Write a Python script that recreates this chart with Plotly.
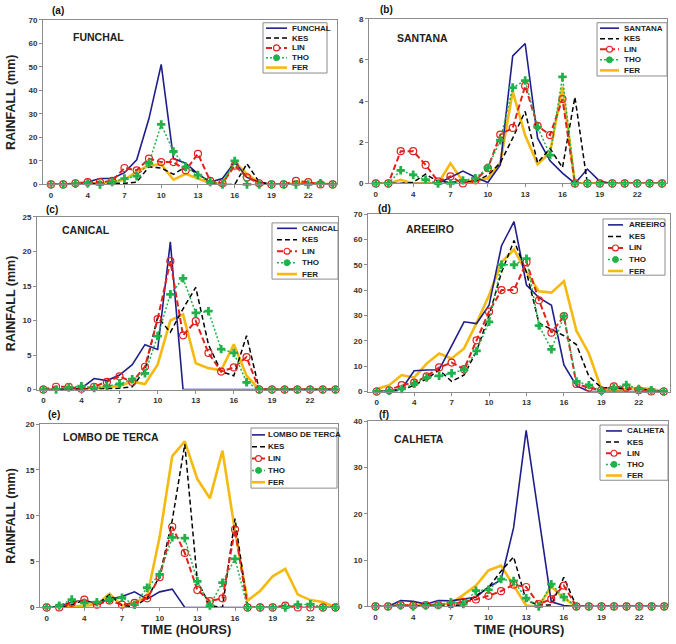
import plotly.graph_objects as go

# ---------------- data ----------------
hours = list(range(1, 25))
tick_vals = [1, 4, 7, 10, 13, 16, 19, 22]
tick_text = ["0", "4", "7", "10", "13", "16", "19", "22"]
model_names = ["KES", "LIN", "THO", "FER"]

funchal_obs = [0, 0, 0.3, 1, 2.5, 2.5, 5, 10.5, 28, 51, 11, 9, 4.5, 1, 2.5, 9.5, 3, 1, 0, 0, 0, 0, 0, 0]
funchal_kes = [0, 0, 0, 0.3, 0.5, 0.5, 0.5, 1, 7.5, 7, 4.3, 7.5, 4.5, 1, 0, 0, 8.8, 1, 0, 0, 0, 0, 0, 0]
funchal_lin = [0, 0, 0.5, 1, 1, 1.5, 7, 6, 11, 9.5, 9.5, 6, 13, 1.5, 0.5, 8, 3, 0.5, 0, 0, 1.5, 1, 0, 0]
funchal_tho = [0, 0, 0.3, 0.5, 0, 1, 2.5, 3.5, 9, 25.5, 14, 7.5, 4, 1, 0, 10, 0, 0, 0, 0, 0, 0, 0.5, 0]
funchal_fer = [0, 0, 0, 0.5, 0.5, 1, 2, 5.5, 8, 8.5, 2, 4.5, 2.5, 0.5, 0.3, 9.5, 4.5, 0.5, 0, 0, 0.5, 0.5, 0.5, 0]

santana_obs = [0, 0, 0, 0, 0, 0, 0.3, 0.6, 0.3, 0.05, 0.9, 6.2, 6.8, 2.2, 1.1, 0.5, 0, 0.7, 0.1, 0, 0, 0, 0, 0]
santana_kes = [0, 0, 0, 0.05, 0.45, 0.1, 0.05, 0.1, 0.1, 0.4, 1.0, 2.2, 3.5, 1.0, 1.7, 0.77, 4.2, 0, 0, 0, 0, 0, 0, 0]
santana_lin = [0, 0, 1.57, 1.57, 0.9, 0.1, 0.34, 0, 0.15, 0.74, 2.37, 2.7, 4.74, 2.8, 2.35, 4.1, 0, 0, 0, 0, 0, 0, 0, 0]
santana_tho = [0, 0, 0.64, 0.42, 0.18, 0, 0, 0.15, 0.25, 0.77, 2.1, 4.66, 5.0, 2.74, 1.38, 5.18, 0, 0, 0, 0, 0, 0, 0, 0]
santana_fer = [0, 0, 0.18, 0, 0, 0, 0.98, 0.1, 0.1, 0.25, 1.0, 4.47, 2.34, 0.93, 1.5, 4.7, 0, 0, 0, 0, 0, 0, 0, 0]

canical_obs = [0, 0, 0, 0.2, 1.6, 1.3, 2.1, 3.6, 6.5, 5.8, 21.4, 0, 0, 0, 0, 0, 0, 0, 0, 0, 0, 0, 0, 0]
canical_kes = [0, 0, 0, 0.1, 0.1, 0.1, 0.2, 0.4, 2.8, 10.5, 8.3, 11.7, 14.8, 6.5, 2.6, 2.0, 7.8, 0, 0, 0, 0, 0, 0, 0]
canical_lin = [0, 0.4, 0.4, 0.1, 0.4, 1.1, 1.9, 1.1, 3.3, 10.2, 18.6, 7.85, 9.9, 5.3, 2.6, 3.2, 4.7, 0, 0, 0, 0, 0, 0, 0]
canical_tho = [0, 0, 0.3, 0.5, 0.2, 0.5, 0.8, 1.5, 2.35, 7.75, 13.8, 16.1, 11.1, 11.35, 5.85, 5.3, 1.05, 0, 0, 0, 0, 0, 0, 0]
canical_fer = [0, 0, 0, 0, 0.2, 0.3, 0.5, 1.15, 0.8, 3.6, 10.0, 10.9, 3.8, 3.1, 2.8, 6.55, 2.0, 0, 0, 0, 0, 0, 0, 0]

areeiro_obs = [0, 0.3, 1, 8.2, 8.5, 8.6, 18, 27.5, 26.8, 34, 57.5, 67, 42, 37, 34, 10.5, 2.3, 0, 0, 0, 0, 0, 0, 0]
areeiro_kes = [0, 0, 0.5, 2.5, 5, 8.5, 4, 6.5, 16, 30, 47, 59.5, 47, 27, 24.5, 22, 18.5, 6, 1.5, 1.5, 1, 1, 0.5, 0]
areeiro_lin = [0, 0.5, 2.5, 3.5, 6, 9.5, 11.4, 8.8, 20.2, 31.5, 40, 40, 51, 36, 23.2, 29.7, 3, 1.5, 0.5, 2, 1.5, 0.5, 0, 0]
areeiro_tho = [0, 0.3, 1, 3, 5.5, 6.2, 7.2, 8.6, 16, 27.5, 50, 50, 52.4, 26, 16.6, 29.7, 4, 2.5, 0.3, 1.5, 2.6, 1, 0.5, 0]
areeiro_fer = [1, 2.5, 6.5, 5.5, 11, 15, 13, 17, 27, 38, 51, 56, 47, 39.5, 39, 43.5, 24, 15, 1, 0.5, 1, 1.5, 1, 0]

lombo_obs = [0, 0.1, 0.6, 0.75, 0.45, 0.9, 1.2, 1.7, 0.9, 1.7, 2.0, 0, 0, 0, 0, 0, 0, 0, 0, 0, 0, 0, 0, 0]
lombo_kes = [0, 0, 0.3, 0.8, 0.3, 1.4, 0.2, 0.1, 1.0, 3.4, 9.5, 17.8, 2.9, 0.2, 0, 9.7, 0, 0, 0, 0, 0, 0, 0, 0]
lombo_lin = [0, 0, 0.5, 0.85, 0.3, 0.75, 0.3, 0.5, 1.0, 3.3, 8.8, 5.95, 1.9, 0.7, 1.0, 8.5, 0, 0, 0, 0.2, 0, 0, 0, 0]
lombo_tho = [0, 0.2, 0.86, 0.5, 0.57, 0.86, 1.07, 0.3, 2.15, 3.6, 7.65, 7.55, 2.85, 0.2, 2.7, 5.3, 0, 0, 0, 0, 0.3, 0.35, 0, 0]
lombo_fer = [0, 0, 0.1, 0.2, 0.3, 1.5, 0.2, 0.5, 1.2, 7.7, 16.5, 18.1, 14, 11.9, 17.1, 8.3, 0.75, 1.8, 3.4, 4.2, 1.4, 0.8, 0.6, 0]

calheta_obs = [0, 0, 1.3, 1.1, 0.5, 1.3, 1.2, 1.6, 2.0, 4.2, 5.7, 17, 38, 19.5, 1, 0.2, 0, 0, 0, 0, 0, 0, 0, 0]
calheta_kes = [0, 0, 0.1, 0.1, 0.1, 0.2, 0.2, 0.3, 2.3, 4.1, 7.6, 10.7, 1.3, 0.3, 0.3, 6.3, 0, 0, 0, 0, 0, 0, 0, 0]
calheta_lin = [0, 0, 0.3, 0.2, 0.3, 0.3, 0.5, 1.0, 1.5, 2.3, 3.3, 4.7, 4.2, 0.5, 1.6, 4.5, 0, 0, 0, 0, 0, 0, 0, 0]
calheta_tho = [0, 0, 0.2, 0, 0.2, 0.3, 0.9, 0.5, 3.4, 3.6, 5.9, 5.5, 1.8, 0, 4.8, 2.0, 0, 0, 0, 0, 0, 0, 0, 0]
calheta_fer = [0, 0, 0.3, 0.2, 0.3, 0.5, 0.6, 2.5, 4.5, 7.8, 8.8, 4.5, 0.2, 0, 4.3, 1.8, 0, 0, 0, 0, 0, 0, 0, 0]

# ---------------- layout (pixels) ----------------
W, H = 676, 644
def fx(p):
    return p / W
def fy(p):
    return 1 - p / H

panels = [
    dict(tag="(a)", name="FUNCHAL", series=[funchal_obs, funchal_kes, funchal_lin, funchal_tho, funchal_fer],
         ymax=70, dtick=10, box=(43, 337, 16, 183), xr=(0.35, 24.35), tagxy=(50, 7), namexy=(71, 33),
         leg=dict(box=(263, 327, 19, 70), y0=24.5, dy=10, lx=(266, 287), tx=290)),
    dict(tag="(b)", name="SANTANA", series=[santana_obs, santana_kes, santana_lin, santana_tho, santana_fer],
         ymax=8, dtick=2, box=(369, 667, 15, 182), xr=(0.45, 24.4), tagxy=(378, 6), namexy=(395, 34),
         leg=dict(box=(597, 667, 19, 73), y0=24.5, dy=10.7, lx=(600, 619), tx=622)),
    dict(tag="(c)", name="CANICAL", series=[canical_obs, canical_kes, canical_lin, canical_tho, canical_fer],
         ymax=25, dtick=5, box=(37, 338, 216, 391), xr=(0.5, 24.2), tagxy=(44, 208), namexy=(60, 229),
         leg=dict(box=(272, 338, 222, 279), y0=227.5, dy=11.6, lx=(277, 297), tx=300)),
    dict(tag="(d)", name="AREEIRO", series=[areeiro_obs, areeiro_kes, areeiro_lin, areeiro_tho, areeiro_fer],
         ymax=70, dtick=10, box=(368, 670, 213, 393), xr=(0.3, 24.5), tagxy=(376, 207), namexy=(404, 228),
         leg=dict(box=(603, 665, 218, 275), y0=224, dy=11.7, lx=(608, 623), tx=627)),
    dict(tag="(e)", name="LOMBO DE TERCA", series=[lombo_obs, lombo_kes, lombo_lin, lombo_tho, lombo_fer],
         ymax=20, dtick=5, box=(40, 338, 426, 612), xr=(0.47, 24.2), tagxy=(46, 416), namexy=(61, 439),
         leg=dict(box=(251, 337, 430, 491), y0=437, dy=12, lx=(252, 265), tx=266)),
    dict(tag="(f)", name="CALHETA", series=[calheta_obs, calheta_kes, calheta_lin, calheta_tho, calheta_fer],
         ymax=40, dtick=10, box=(368, 668, 423, 611), xr=(0.4, 24.3), tagxy=(377, 416), namexy=(392, 441),
         leg=dict(box=(600, 668, 427, 483), y0=433, dy=11.3, lx=(606, 622), tx=625)),
]

NAVY = "#1f1f8c"
RED = "#e3211c"
GREEN = "#1fb24a"
GOLD = "#f6b90f"
styles = [
    dict(line=dict(color=NAVY, width=1.6), mode="lines"),
    dict(line=dict(color="#000000", width=1.5, dash="5px,3px"), mode="lines"),
    dict(line=dict(color=RED, width=2, dash="6px,3px"), mode="lines+markers",
         marker=dict(symbol="circle-open", size=7, color=RED, line=dict(width=1.2, color=RED))),
    dict(line=dict(color=GREEN, width=1.5, dash="2px,2px"), mode="lines+markers",
         marker=dict(symbol="cross", size=7, color=GREEN)),
    dict(line=dict(color=GOLD, width=2.6), mode="lines"),
]
draw_order = [4, 0, 1, 2, 3]

FONT = "Liberation Sans, Arial, sans-serif"
fig = go.Figure()
annotations = []
shapes = []

for k, p in enumerate(panels, start=1):
    xa = "x" if k == 1 else f"x{k}"
    ya = "y" if k == 1 else f"y{k}"
    labels = [p["name"]] + model_names
    for si in draw_order:
        st = styles[si]
        fig.add_trace(go.Scatter(
            x=hours, y=p["series"][si], name=labels[si], xaxis=xa, yaxis=ya,
            mode=st["mode"], line=st["line"], marker=st.get("marker"),
            cliponaxis=False, showlegend=False,
        ))
    x0, x1, y0, y1 = p["box"]
    axis_common = dict(showline=True, mirror=True, linecolor="#8c8c8c", linewidth=1,
                       showgrid=False, zeroline=False, ticks="outside", ticklen=3,
                       tickcolor="#8c8c8c", tickfont=dict(family=FONT, size=8, weight="bold", color="#333333"))
    fig.layout[("xaxis" if k == 1 else f"xaxis{k}")] = dict(
        domain=[fx(x0), fx(x1)], anchor=ya, range=list(p["xr"]),
        tickmode="array", tickvals=tick_vals, ticktext=tick_text, **axis_common)
    fig.layout[("yaxis" if k == 1 else f"yaxis{k}")] = dict(
        domain=[fy(y1), fy(y0)], anchor=xa, range=[0, p["ymax"]], dtick=p["dtick"], **axis_common)

    annotations.append(dict(text=p["tag"], x=fx(p["tagxy"][0]), y=fy(p["tagxy"][1]), xref="paper", yref="paper",
                            xanchor="left", yanchor="middle", showarrow=False,
                            font=dict(family=FONT, size=10, weight="bold", color="#111111")))
    annotations.append(dict(text=p["name"], x=fx(p["namexy"][0]), y=fy(p["namexy"][1]), xref="paper", yref="paper",
                            xanchor="left", yanchor="middle", showarrow=False,
                            font=dict(family=FONT, size=10.5, weight="bold", color="#222222")))

    # legend box (drawn as decoration)
    lg = p["leg"]
    bx0, bx1, by0, by1 = lg["box"]
    shapes.append(dict(type="rect", xref="paper", yref="paper", x0=fx(bx0), x1=fx(bx1), y0=fy(by1), y1=fy(by0),
                       line=dict(color="#8c8c8c", width=1), fillcolor="white", layer="above"))
    for r in range(5):
        ry = lg["y0"] + r * lg["dy"]
        st = styles[r]
        shapes.append(dict(type="line", xref="paper", yref="paper", x0=fx(lg["lx"][0]), x1=fx(lg["lx"][1]),
                           y0=fy(ry), y1=fy(ry), line=dict(color=st["line"]["color"], width=st["line"]["width"],
                                                          dash=st["line"].get("dash", "solid")), layer="above"))
        cx = (lg["lx"][0] + lg["lx"][1]) / 2
        if r == 2:
            shapes.append(dict(type="circle", xref="paper", yref="paper", x0=fx(cx - 3), x1=fx(cx + 3),
                               y0=fy(ry + 3), y1=fy(ry - 3), line=dict(color=RED, width=1.1),
                               fillcolor="white", layer="above"))
        if r == 3:
            shapes.append(dict(type="circle", xref="paper", yref="paper", x0=fx(cx - 3), x1=fx(cx + 3),
                               y0=fy(ry + 3), y1=fy(ry - 3), line=dict(color=GREEN, width=1),
                               fillcolor=GREEN, layer="above"))
        annotations.append(dict(text=labels[r], x=fx(lg["tx"]), y=fy(ry), xref="paper", yref="paper",
                                xanchor="left", yanchor="middle", showarrow=False,
                                font=dict(family=FONT, size=8, weight="bold", color="#222222")))

# axis titles
for (cy) in [(16 + 183) / 2, (216 + 391) / 2, (426 + 612) / 2]:
    annotations.append(dict(text="RAINFALL (mm)", x=fx(11), y=fy(cy), xref="paper", yref="paper",
                            textangle=-90, showarrow=False, xanchor="center", yanchor="middle",
                            font=dict(family=FONT, size=12.5, weight="bold", color="#222222")))
for cx in [186, 519]:
    annotations.append(dict(text="TIME (HOURS)", x=fx(cx), y=fy(634), xref="paper", yref="paper",
                            showarrow=False, xanchor="center", yanchor="middle",
                            font=dict(family=FONT, size=13, weight="bold", color="#222222")))

fig.update_layout(
    width=W, height=H, margin=dict(l=0, r=0, t=0, b=0),
    paper_bgcolor="white", plot_bgcolor="white",
    showlegend=False, annotations=annotations, shapes=shapes,
    font=dict(family=FONT),
)
fig.write_html("out.html")
